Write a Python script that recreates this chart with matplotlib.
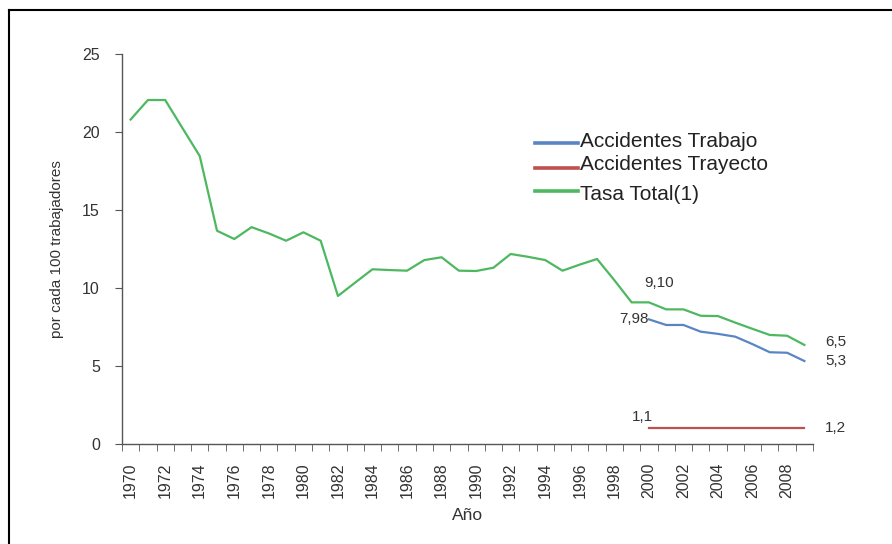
import matplotlib as mpl
import matplotlib.pyplot as plt
import numpy as np
from matplotlib.lines import Line2D

plt.rcParams['font.family'] = ['Liberation Sans', 'DejaVu Sans']

# data
years = list(range(1970, 2010))
tasa_total = [20.8, 22.05, 22.05, 20.25, 18.46, 13.67, 13.14, 13.9, 13.5, 13.03,
              13.57, 13.03, 9.49, 10.35, 11.2, 11.15, 11.11, 11.79, 11.97, 11.11,
              11.09, 11.3, 12.18, 12.0, 11.79, 11.11, 11.5, 11.86, 10.5, 9.08,
              9.08, 8.63, 8.63, 8.22, 8.2, 7.78, 7.38, 6.99, 6.94, 6.35]
years_acc = list(range(2000, 2010))
acc_trabajo = [7.99, 7.63, 7.63, 7.2, 7.06, 6.88, 6.4, 5.88, 5.85, 5.32]
acc_trayecto = [1.0] * 10

blue = '#5a85c4'
red = '#c0504d'
green = '#4db860'
grey = '#555555'
txt = '#333333'

fig = plt.figure(figsize=(8.92, 5.44), dpi=100)
ax = fig.add_axes([122/892, 1-444/544, (813-122)/892, (444-54)/544])

ax.plot(years, tasa_total, color=green, lw=1.6)
ax.plot(years_acc, acc_trabajo, color=blue, lw=1.6)
ax.plot(years_acc, acc_trayecto, color=red, lw=1.6)

ax.set_xlim(1969.5, 2009.5)
ax.set_ylim(0, 25)

for s in ['top', 'right']:
    ax.spines[s].set_visible(False)
for s in ['left', 'bottom']:
    ax.spines[s].set_color(grey)
    ax.spines[s].set_linewidth(1.0)

ax.set_yticks([0, 5, 10, 15, 20, 25])
ax.tick_params(axis='y', direction='out', length=5, color=grey, labelsize=11.5, labelcolor=txt, pad=11)

# category style axis: ticks between years, labels on even years
ax.set_xticks(np.arange(1969.5, 2010, 1.0), minor=True)
ax.set_xticks(years[::2])
ax.set_xticklabels([str(y) for y in years[::2]], rotation=90)
ax.tick_params(axis='x', which='major', length=0, labelsize=11.5, labelcolor=txt, pad=13.5)
ax.tick_params(axis='x', which='minor', direction='out', length=5, color=grey)

ax.set_xlabel('Año', fontsize=12.5, color=txt, labelpad=7)
ax.set_ylabel('por cada 100 trabajadores', fontsize=11, color=txt, labelpad=13)

# value annotations
fs = 11
ax.text(2000.6, 10.3, '9,10', fontsize=fs, color=txt, ha='center', va='center')
ax.text(2000.0, 7.99, '7,98', fontsize=fs, color=txt, ha='right', va='center')
ax.text(2010.2, 6.56, '6,5', fontsize=fs, color=txt, ha='left', va='center')
ax.text(2010.2, 5.34, '5,3', fontsize=fs, color=txt, ha='left', va='center')
ax.text(1999.6, 1.75, '1,1', fontsize=fs, color=txt, ha='center', va='center')
ax.text(2010.2, 1.04, '1,2', fontsize=fs, color=txt, ha='left', va='center')

# legend drawn by hand (spacing is uneven in the original)
leg = [('Accidentes Trabajo', blue, 142.7, 141),
       ('Accidentes Trayecto', red, 168.3, 164),
       ('Tasa Total(1)', green, 190.7, 194)]
for label, c, yl, yt in leg:
    fig.add_artist(Line2D([535/892, 578/892], [1-yl/544, 1-yl/544], color=c, lw=2.6))
    fig.text(580/892, 1-yt/544, label, fontsize=15, color='#222222', va='center', ha='left')

# frame around the figure (only left and top visible)
fig.add_artist(Line2D([9/892, 9/892], [0, 1-10/544], color='black', lw=1.5))
fig.add_artist(Line2D([9/892, 1], [1-10/544, 1-10/544], color='black', lw=1.5))

fig.savefig('out.png', dpi=100)
